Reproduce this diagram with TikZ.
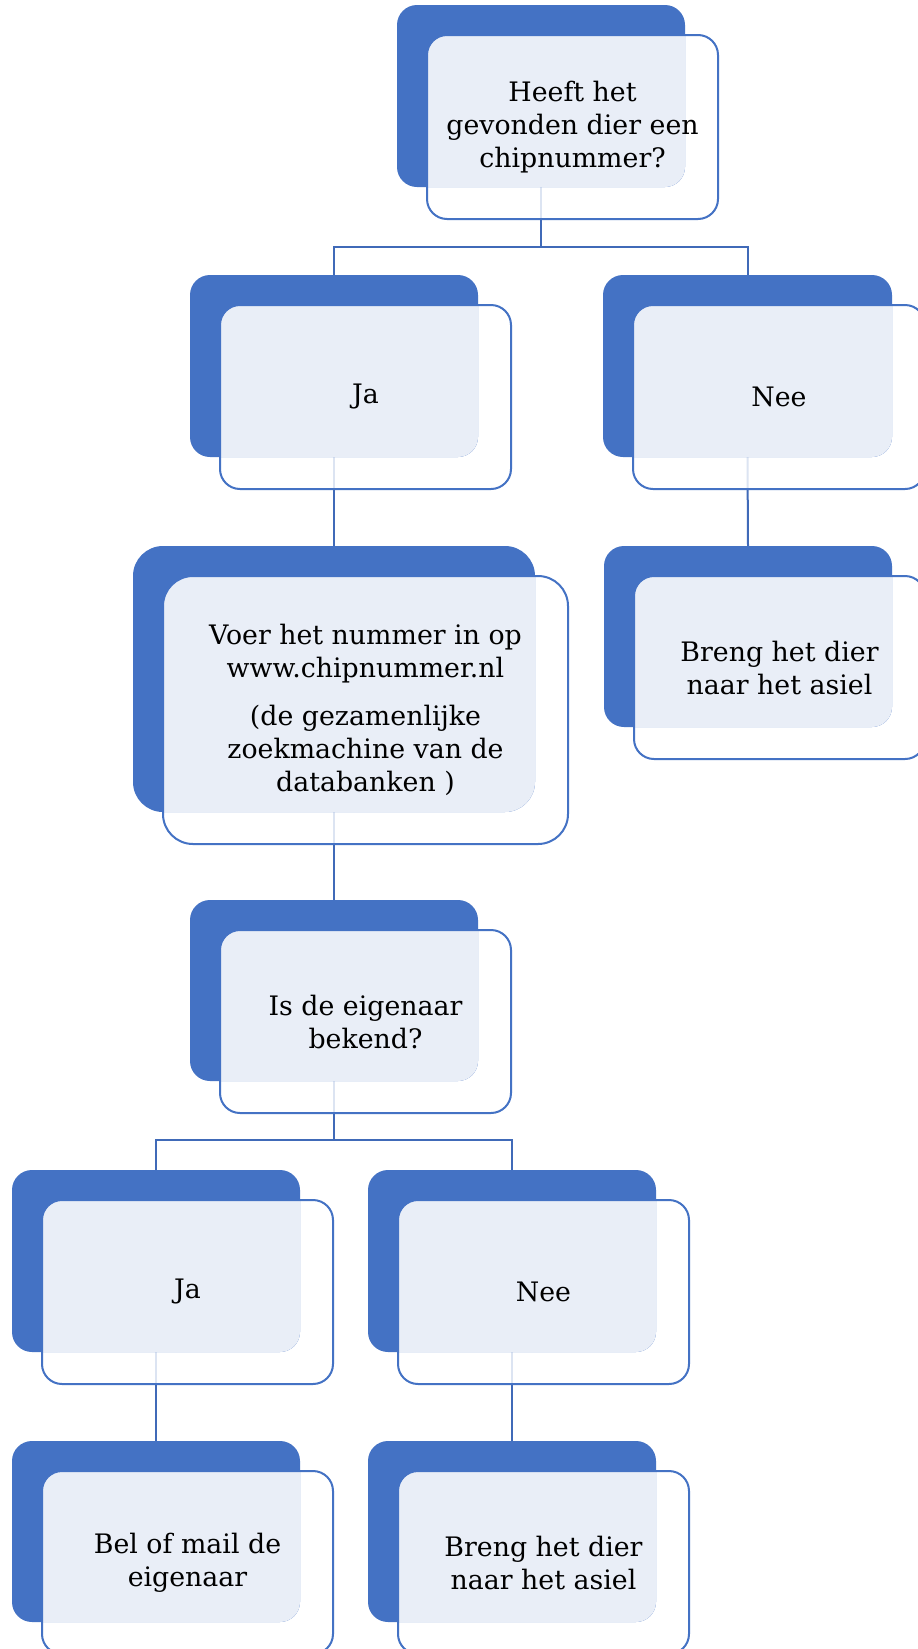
\documentclass[tikz,border=0pt]{standalone}
\usepackage{fontspec}
\setmainfont{DejaVu Serif}
\usetikzlibrary{backgrounds}
\definecolor{dk}{RGB}{68,114,196}
\definecolor{lt}{RGB}{233,238,247}
\definecolor{ln}{RGB}{64,106,184}
\tikzset{
  basebox/.style={rectangle, inner sep=0pt, outer sep=0pt},
  wbox/.style={basebox, fill=white, fill opacity=0.82},
  dbox/.style={basebox, fill=dk},
  lbox/.style={basebox, fill=lt},
  obox/.style={basebox, draw=dk, line width=2pt, align=center, text=black,
    font=\fontsize{26.8}{33}\selectfont},
  conn/.style={draw=ln, line width=2pt},
}
% #1 name, #2 x0, #3 y0, #4 w, #5 h, #6 radius, #7 text
\newcommand\skbox[7]{%
  \node[wbox, rounded corners=#6pt, minimum width={(#4+3)*1pt}, minimum height={(#5+2)*1pt}]
    (#1W) at ({#2+#4/2+31.5},{#3+#5/2+31}) {};
  \node[dbox, rounded corners=#6pt, minimum width=#4pt, minimum height=#5pt]
    (#1D) at ({#2+#4/2},{#3+#5/2}) {};
  \begin{scope}
    \clip[rounded corners=#6pt] (#2,#3) rectangle ({#2+#4},{#3+#5});
    \node[lbox, rounded corners=#6pt, minimum width={(#4+3)*1pt}, minimum height={(#5+2)*1pt}]
      (#1L) at ({#2+#4/2+31.5},{#3+#5/2+31}) {};
  \end{scope}
  \node[obox, rounded corners=#6pt, minimum width={(#4+3)*1pt}, minimum height={(#5+2)*1pt}]
    (#1) at ({#2+#4/2+31.5},{#3+#5/2+31}) {#7};
}
\begin{document}
\begin{tikzpicture}[x=1pt,y=-1pt]
\useasboundingbox (0,0) rectangle (918,1649);
\clip (0,0) rectangle (918,1649);

\skbox{top}{397}{5}{288}{182}{20}{Heeft het\\gevonden dier een\\chipnummer?}
\skbox{ja}{190}{275}{288}{182}{20}{Ja}
\skbox{nee}{603}{275}{289}{182}{20}{Nee}
\skbox{voer}{133}{546}{402}{266}{30}{Voer het nummer in op\\www.chipnummer.nl\\[15pt](de gezamenlijke\\zoekmachine van de\\databanken )}
\skbox{breng}{604}{546}{288}{181}{20}{Breng het dier\\naar het asiel}
\skbox{is}{190}{900}{288}{181}{20}{Is de eigenaar\\bekend?}
\skbox{jab}{12}{1170}{288}{182}{20}{Ja}
\skbox{neeb}{368}{1170}{288}{182}{20}{Nee}
\skbox{bel}{12}{1441}{288}{181}{20}{Bel of mail de\\eigenaar}
\skbox{brengb}{368}{1441}{288}{181}{20}{Breng het dier\\naar het asiel}

\begin{scope}[on background layer]
  \fill[white] (0,0) rectangle (918,1649);
  \coordinate (b1) at (541,247);
  \coordinate (b2) at (334,1140);
  \draw[conn] (topD.south) -- (b1);
  \draw[conn] (jaD.north) |- (b1) -| (neeD.north);
  \draw[conn] (jaD.south) -- (voerD.north);
  \draw[conn] (neeD.south) -- (brengD.north);
  \draw[conn] (voerD.south) -- (isD.north);
  \draw[conn] (isD.south) -- (b2);
  \draw[conn] (jabD.north) |- (b2) -| (neebD.north);
  \draw[conn] (jabD.south) -- (belD.north);
  \draw[conn] (neebD.south) -- (brengbD.north);
\end{scope}
\end{tikzpicture}
\end{document}
